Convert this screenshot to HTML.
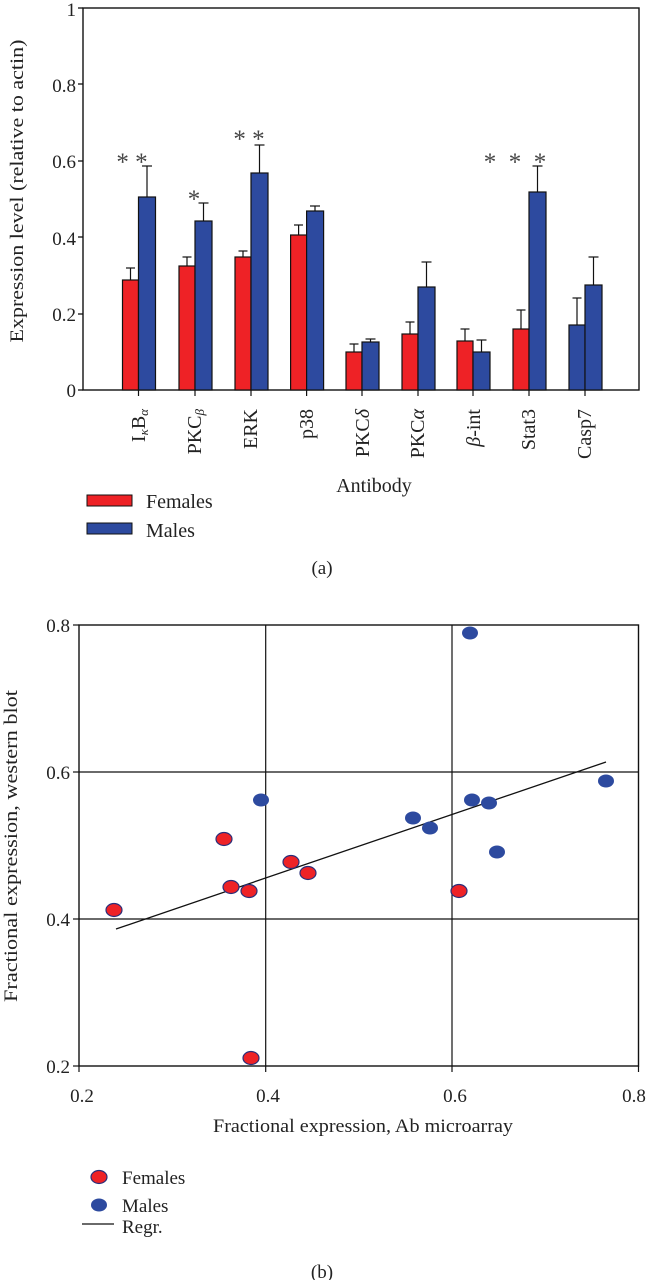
<!DOCTYPE html>
<html><head><meta charset="utf-8"><style>
html,body{margin:0;padding:0;background:#fff;}
svg{display:block;font-family:"Liberation Serif",serif;}
</style></head><body>
<svg width="648" height="1280" viewBox="0 0 648 1280" xmlns="http://www.w3.org/2000/svg">
<!-- Chart (a) -->
<g font-size="19" fill="#222">
<text x="76" y="16" text-anchor="end">1</text>
<text x="76" y="92" text-anchor="end">0.8</text>
<text x="76" y="168" text-anchor="end">0.6</text>
<text x="76" y="245" text-anchor="end">0.4</text>
<text x="76" y="321" text-anchor="end">0.2</text>
<text x="76" y="397" text-anchor="end">0</text>
</g>
<text transform="translate(23,191) rotate(-90)" text-anchor="middle" font-size="19" fill="#222" textLength="303" lengthAdjust="spacingAndGlyphs">Expression level (relative to actin)</text>
<g stroke="#111" stroke-width="1.3">
<line x1="78" y1="8" x2="83" y2="8"/><line x1="78" y1="84" x2="83" y2="84"/><line x1="78" y1="161" x2="83" y2="161"/><line x1="78" y1="237" x2="83" y2="237"/><line x1="78" y1="314" x2="83" y2="314"/><line x1="78" y1="390" x2="83" y2="390"/>
</g>
<rect x="83" y="8" width="556" height="382" fill="none" stroke="#111" stroke-width="1.4"/>
<g stroke="#111" stroke-width="1.2">
<rect x="122.5" y="280" width="16" height="110" fill="#ee2226"/><line x1="130.5" y1="280" x2="130.5" y2="268"/><line x1="126" y1="268" x2="135" y2="268"/>
<rect x="138.5" y="197" width="17" height="193" fill="#2d4a9f"/><line x1="147" y1="197" x2="147" y2="166"/><line x1="142" y1="166" x2="152" y2="166"/>
<rect x="179" y="266" width="16" height="124" fill="#ee2226"/><line x1="187" y1="266" x2="187" y2="257"/><line x1="182.5" y1="257" x2="191.5" y2="257"/>
<rect x="195" y="221" width="17" height="169" fill="#2d4a9f"/><line x1="203.5" y1="221" x2="203.5" y2="203"/><line x1="198.5" y1="203" x2="208.5" y2="203"/>
<rect x="235" y="257" width="16" height="133" fill="#ee2226"/><line x1="243" y1="257" x2="243" y2="251"/><line x1="238.5" y1="251" x2="247.5" y2="251"/>
<rect x="251" y="173" width="17" height="217" fill="#2d4a9f"/><line x1="259.5" y1="173" x2="259.5" y2="145"/><line x1="254.5" y1="145" x2="264.5" y2="145"/>
<rect x="290.6" y="235" width="16" height="155" fill="#ee2226"/><line x1="298.6" y1="235" x2="298.6" y2="225"/><line x1="294" y1="225" x2="303" y2="225"/>
<rect x="306.6" y="211" width="17" height="179" fill="#2d4a9f"/><line x1="315" y1="211" x2="315" y2="206"/><line x1="310" y1="206" x2="320" y2="206"/>
<rect x="346" y="352" width="16" height="38" fill="#ee2226"/><line x1="354" y1="352" x2="354" y2="344"/><line x1="349.5" y1="344" x2="358.5" y2="344"/>
<rect x="362" y="342" width="17" height="48" fill="#2d4a9f"/><line x1="370.5" y1="342" x2="370.5" y2="339"/><line x1="365.5" y1="339" x2="375.5" y2="339"/>
<rect x="402" y="334" width="16" height="56" fill="#ee2226"/><line x1="410" y1="334" x2="410" y2="322"/><line x1="405.5" y1="322" x2="414.5" y2="322"/>
<rect x="418" y="287" width="17" height="103" fill="#2d4a9f"/><line x1="426.5" y1="287" x2="426.5" y2="262"/><line x1="421.5" y1="262" x2="431.5" y2="262"/>
<rect x="457" y="341" width="16" height="49" fill="#ee2226"/><line x1="465" y1="341" x2="465" y2="329"/><line x1="460.5" y1="329" x2="469.5" y2="329"/>
<rect x="473" y="352" width="17" height="38" fill="#2d4a9f"/><line x1="481.5" y1="352" x2="481.5" y2="340"/><line x1="476.5" y1="340" x2="486.5" y2="340"/>
<rect x="513" y="329" width="16" height="61" fill="#ee2226"/><line x1="521" y1="329" x2="521" y2="310"/><line x1="516.5" y1="310" x2="525.5" y2="310"/>
<rect x="529" y="192" width="17" height="198" fill="#2d4a9f"/><line x1="537.5" y1="192" x2="537.5" y2="166"/><line x1="532.5" y1="166" x2="542.5" y2="166"/>
<rect x="569" y="325" width="16" height="65" fill="#2d4a9f"/><line x1="577" y1="325" x2="577" y2="298"/><line x1="572.5" y1="298" x2="581.5" y2="298"/>
<rect x="585" y="285" width="17" height="105" fill="#2d4a9f"/><line x1="593.5" y1="285" x2="593.5" y2="257"/><line x1="588.5" y1="257" x2="598.5" y2="257"/>
<line x1="138.5" y1="390" x2="138.5" y2="396"/><line x1="195" y1="390" x2="195" y2="396"/><line x1="251" y1="390" x2="251" y2="396"/><line x1="306.6" y1="390" x2="306.6" y2="396"/><line x1="362" y1="390" x2="362" y2="396"/><line x1="418" y1="390" x2="418" y2="396"/><line x1="473" y1="390" x2="473" y2="396"/><line x1="529" y1="390" x2="529" y2="396"/><line x1="585" y1="390" x2="585" y2="396"/>
</g>
<g font-size="25" fill="#444" text-anchor="middle">
<text x="132" y="170">* *</text>
<text x="194" y="207">*</text>
<text x="249" y="147">* *</text>
<text x="515" y="170">*&#160; *&#160; *</text>
</g>
<g font-size="20" fill="#222" text-anchor="end">
<text transform="translate(145,409) rotate(-90)">I<tspan font-size="13" font-style="italic" dy="3">κ</tspan><tspan dy="-3">B</tspan><tspan font-size="13" font-style="italic" dy="3">α</tspan></text>
<text transform="translate(201,409) rotate(-90)">PKC<tspan font-size="13" font-style="italic" dy="3">β</tspan></text>
<text transform="translate(257,409) rotate(-90)">ERK</text>
<text transform="translate(313,409) rotate(-90)">p38</text>
<text transform="translate(369,409) rotate(-90)">PKC<tspan font-style="italic">δ</tspan></text>
<text transform="translate(424,409) rotate(-90)">PKC<tspan font-style="italic">α</tspan></text>
<text transform="translate(480,409) rotate(-90)"><tspan font-style="italic">β</tspan>-int</text>
<text transform="translate(535,409) rotate(-90)">Stat3</text>
<text transform="translate(591,409) rotate(-90)">Casp7</text>
</g>
<text x="374" y="492" font-size="20" fill="#222" text-anchor="middle">Antibody</text>
<rect x="87" y="495" width="45" height="11" fill="#ee2226" stroke="#111" stroke-width="1"/>
<rect x="87" y="523" width="45" height="11" fill="#2d4a9f" stroke="#111" stroke-width="1"/>
<text x="146" y="508" font-size="20" fill="#222">Females</text>
<text x="146" y="537" font-size="20" fill="#222">Males</text>
<text x="322" y="574" font-size="19" fill="#222" text-anchor="middle">(a)</text>

<!-- Chart (b) -->
<g stroke="#111" stroke-width="1.2">
<line x1="79" y1="772" x2="638.5" y2="772"/>
<line x1="79" y1="919" x2="638.5" y2="919"/>
<line x1="265.7" y1="625" x2="265.7" y2="1066"/>
<line x1="452" y1="625" x2="452" y2="1066"/>
<rect x="79" y="625" width="559.5" height="441" fill="none" stroke-width="1.4"/>
<line x1="73" y1="625" x2="79" y2="625"/><line x1="73" y1="772" x2="79" y2="772"/><line x1="73" y1="919" x2="79" y2="919"/><line x1="73" y1="1066" x2="79" y2="1066"/>
<line x1="79" y1="1066" x2="79" y2="1072"/><line x1="265.7" y1="1066" x2="265.7" y2="1072"/><line x1="452" y1="1066" x2="452" y2="1072"/><line x1="638.5" y1="1066" x2="638.5" y2="1072"/>
<line x1="116" y1="929" x2="606" y2="762" stroke-width="1.3"/>
</g>
<g font-size="19" fill="#222" text-anchor="end">
<text x="70" y="632">0.8</text><text x="70" y="779">0.6</text><text x="70" y="926">0.4</text><text x="70" y="1073">0.2</text>
</g>
<g font-size="19" fill="#222" text-anchor="middle">
<text x="82" y="1102">0.2</text><text x="268" y="1102">0.4</text><text x="455" y="1102">0.6</text><text x="634" y="1102">0.8</text>
</g>
<text x="363" y="1132" font-size="19" fill="#222" text-anchor="middle" textLength="300" lengthAdjust="spacingAndGlyphs">Fractional expression, Ab microarray</text>
<text transform="translate(17,846) rotate(-90)" font-size="19" fill="#222" text-anchor="middle" textLength="312" lengthAdjust="spacingAndGlyphs">Fractional expression, western blot</text>
<g fill="#ee2226" stroke="#2a2f7a" stroke-width="1.2">
<ellipse cx="114" cy="910" rx="8" ry="6.5"/><ellipse cx="224" cy="839" rx="8" ry="6.5"/><ellipse cx="231" cy="887" rx="8" ry="6.5"/><ellipse cx="249" cy="891" rx="8" ry="6.5"/><ellipse cx="291" cy="862" rx="8" ry="6.5"/><ellipse cx="308" cy="873" rx="8" ry="6.5"/><ellipse cx="459" cy="891" rx="8" ry="6.5"/><ellipse cx="251" cy="1058" rx="8" ry="6.5"/>
<ellipse cx="99" cy="1177" rx="8" ry="6.5"/>
</g>
<g fill="#2d4a9f">
<ellipse cx="470" cy="633" rx="8" ry="6.5"/><ellipse cx="261" cy="800" rx="8" ry="6.5"/><ellipse cx="413" cy="818" rx="8" ry="6.5"/><ellipse cx="430" cy="828" rx="8" ry="6.5"/><ellipse cx="472" cy="800" rx="8" ry="6.5"/><ellipse cx="489" cy="803" rx="8" ry="6.5"/><ellipse cx="497" cy="852" rx="8" ry="6.5"/><ellipse cx="606" cy="781" rx="8" ry="6.5"/>
<ellipse cx="99" cy="1205" rx="8" ry="6.5"/>
</g>
<line x1="82" y1="1224" x2="114" y2="1224" stroke="#111" stroke-width="1.3"/>
<g font-size="19" fill="#222">
<text x="122" y="1184">Females</text><text x="122" y="1212">Males</text><text x="122" y="1233">Regr.</text>
</g>
<text x="322" y="1278" font-size="19" fill="#222" text-anchor="middle">(b)</text>
</svg>
</body></html>
